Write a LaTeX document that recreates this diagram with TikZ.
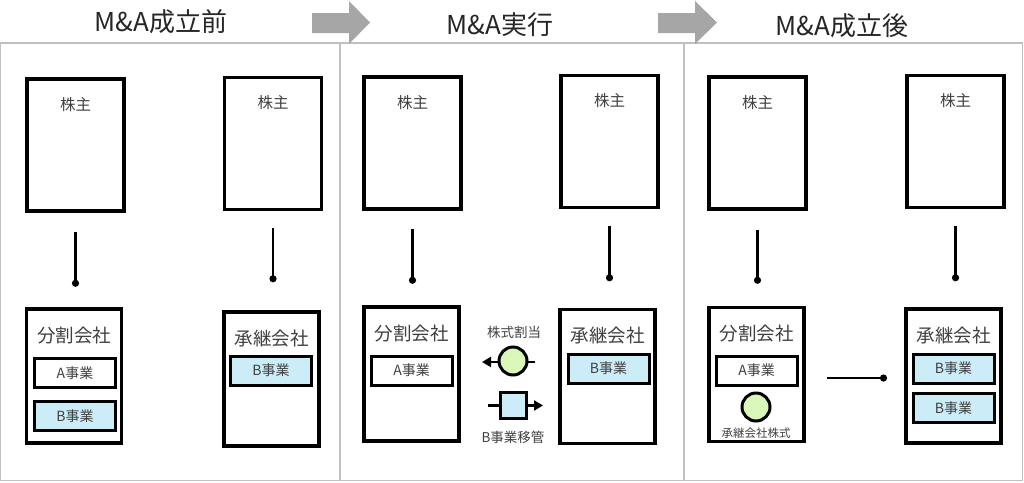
\documentclass[tikz,border=0pt]{standalone}
\usepackage{fontspec}
\setmainfont{Noto Sans CJK JP}
\usetikzlibrary{arrows.meta}
\definecolor{panelgray}{HTML}{C0C0C0}
\definecolor{arrowgray}{HTML}{A6A6A6}
\definecolor{bizblue}{HTML}{CCECF8}
\definecolor{stockgreen}{HTML}{D9F7B8}
\definecolor{textgray}{HTML}{404040}
\tikzset{
  panel/.style={draw=panelgray, line width=1.2pt},
  phasearrow/.style={fill=arrowgray},
  title/.style={font=\fontsize{26}{28}\selectfont, text=black!85},
  holder/.style={draw, line width=3.5pt, fill=white, minimum width=97pt, minimum height=132pt, inner sep=0pt,
    label={[anchor=center, yshift=-27pt, font=\fontsize{15.5}{17}\selectfont, text=textgray]north:株主}},
  company/.style={draw, line width=3.5pt, fill=white, minimum width=95pt, minimum height=134pt, inner sep=0pt},
  cotitle/.style={anchor=center, yshift=-28pt, font=\fontsize{18.5}{20}\selectfont, text=textgray},
  biz/.style={draw, line width=3pt, minimum width=81pt, minimum height=29pt, inner sep=0pt,
    font=\fontsize{14}{15}\selectfont, text=textgray},
  bizA/.style={biz, fill=white},
  bizB/.style={biz, fill=bizblue},
  stock/.style={draw, line width=3pt, circle, fill=stockgreen, minimum size=28pt, inner sep=0pt},
  bizsq/.style={draw, line width=3pt, rectangle, fill=bizblue, minimum size=26pt, inner sep=0pt},
  small/.style={font=\fontsize{13.5}{15}\selectfont, text=textgray},
  tiny/.style={font=\fontsize{11.5}{13}\selectfont, text=textgray},
  conn/.style={line width=2.5pt, -{Circle[length=7pt]}},
  flow/.style={line width=2.2pt},
  flowtip/.tip={Triangle[length=9pt,width=10pt]},
}
\begin{document}
\begin{tikzpicture}[x=1pt, y=-1pt]
\useasboundingbox (0,0) rectangle (1024,482);
% panels
\draw[panel] (0.7,43) rectangle (1022.5,480.5);
\draw[panel] (340,43) -- (340,480.5);
\draw[panel] (684,43) -- (684,480.5);
% phase arrows
\fill[phasearrow] (312,13) -- (349,13) -- (349,1) -- (370,22.5) -- (349,44) -- (349,33) -- (312,33) -- cycle;
\fill[phasearrow] (658,13) -- (695,13) -- (695,1) -- (717,22.5) -- (695,44) -- (695,33) -- (658,33) -- cycle;
% titles
\node[title] (t1) at (161,22) {M\&A成立前};
\node[title] (t2) at (500,25) {M\&A実行};
\node[title] (t3) at (842,26) {M\&A成立後};

% ---------- panel 1 ----------
\node[holder] (sh1) at (75.5,145) {};
\node[holder] (sh2) at (273,143.5) {};
\node[company, label={[cotitle]north:分割会社}] (co1) at (74,376) {};
\node[company, label={[cotitle]north:承継会社}] (co2) at (271.5,379) {};
\node[bizA] (b1) at (75,373) {A事業};
\node[bizB] (b2) at (75,416) {B事業};
\node[bizB] (b3) at (271,370.5) {B事業};
\draw[conn] ([yshift=-19pt]sh1.south) -- ([yshift=-74pt]sh1.south);
\draw[conn] ([yshift=-17pt]sh2.south) -- ([yshift=-71pt]sh2.south);

% ---------- panel 2 ----------
\node[holder] (sh3) at (412.5,143) {};
\node[holder] (sh4) at (609.5,141.5) {};
\node[company, label={[cotitle]north:分割会社}] (co3) at (411.5,374) {};
\node[company, label={[cotitle]north:承継会社}] (co4) at (607.5,376.5) {};
\node[bizA] (b4) at (411.5,370.5) {A事業};
\node[bizB] (b5) at (608.5,368.5) {B事業};
\draw[conn] ([yshift=-18pt]sh3.south) -- ([yshift=-73pt]sh3.south);
\draw[conn] ([yshift=-17pt]sh4.south) -- ([yshift=-72pt]sh4.south);
\coordinate (sl) at (482,362);
\coordinate (sr) at (535,362);
\coordinate (ml) at (488,405.5);
\coordinate (mr) at (543,405.5);
\draw[flow, {flowtip}-] (sl) -- (sr);
\draw[flow, -{flowtip}] (ml) -- (mr);
\node[stock] (st1) at (513,361) {};
\node[bizsq] (sq1) at (513.5,405.5) {};
\node[small] (l1) at (514,332) {株式割当};
\node[small] (l2) at (513,437) {B事業移管};

% ---------- panel 3 ----------
\node[holder] (sh5) at (757.5,143) {};
\node[holder] (sh6) at (955.5,141.5) {};
\node[company, label={[cotitle]north:分割会社}] (co5) at (756.5,374.5) {};
\node[company, label={[cotitle]north:承継会社}] (co6) at (953.5,376) {};
\node[bizA] (b6) at (756.5,370.5) {A事業};
\node[bizB] (b7) at (953.5,368.5) {B事業};
\node[bizB] (b8) at (953.5,408) {B事業};
\node[stock] (st2) at (756,407) {};
\node[tiny] (l3) at (756,433) {承継会社株式};
\draw[conn] ([yshift=-19pt]sh5.south) -- ([yshift=-73pt]sh5.south);
\draw[conn] ([yshift=-17pt]sh6.south) -- ([yshift=-72pt]sh6.south);
\coordinate (hl) at (827,378);
\coordinate (hr) at (887,378);
\draw[conn] (hl) -- (hr);
\end{tikzpicture}
\end{document}
